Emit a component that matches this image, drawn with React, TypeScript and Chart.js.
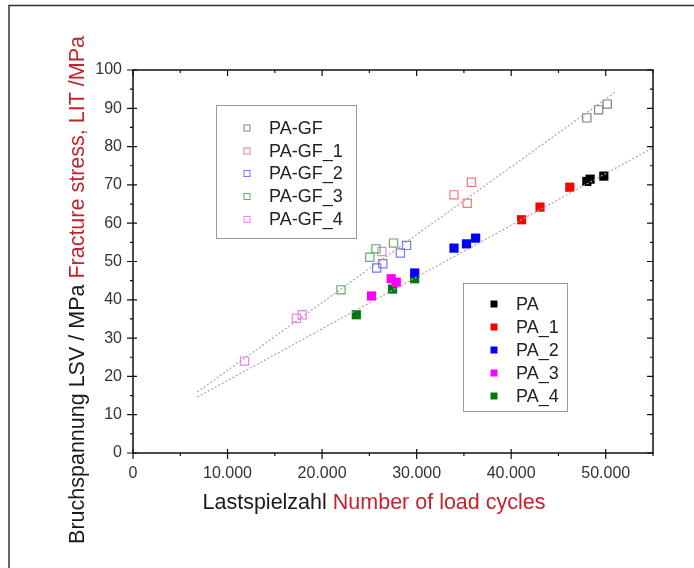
import React, { useEffect, useRef } from "react";
import { Chart, registerables } from "chart.js";

Chart.register(...registerables);

// ---- data ----
const gfX = [48000, 49250, 50150];
const gfY = [87.5, 89.6, 91.1];
const gf1X = [33950, 35350, 35800];
const gf1Y = [67.4, 65.2, 70.7];
const gf2X = [25770, 26420, 28280, 28930];
const gf2Y = [48.3, 49.4, 52.2, 54.2];
const gf3X = [22000, 25050, 25700, 27560];
const gf3Y = [42.6, 51.1, 53.3, 54.8];
const gf4X = [11800, 17280, 17890, 26320];
const gf4Y = [24.0, 35.2, 36.1, 52.6];

const paX = [48000, 48350, 49800];
const paY = [70.9, 71.5, 72.3];
const pa1X = [41100, 43050, 46200];
const pa1Y = [60.9, 64.2, 69.4];
const pa2X = [29800, 33950, 35270, 36240];
const pa2Y = [47.0, 53.5, 54.6, 56.1];
const pa3X = [25230, 27310, 27850];
const pa3Y = [41.0, 45.5, 44.6];
const pa4X = [23620, 27450, 29790];
const pa4Y = [36.1, 42.8, 45.5];

const gfTrendX = [6800, 51000];
const gfTrendY = [15.9, 94.2];
const paTrendX = [6800, 55000];
const paTrendY = [14.6, 79.7];

const gfNames = ["PA-GF", "PA-GF_1", "PA-GF_2", "PA-GF_3", "PA-GF_4"];
const gfColors = ["#808080", "#f07878", "#7878f0", "#60b060", "#f080f0"];
const paNames = ["PA", "PA_1", "PA_2", "PA_3", "PA_4"];
const paColors = ["#000000", "#ff0000", "#0000ff", "#ff00ff", "#007a10"];

const xTickValues = [0, 10000, 20000, 30000, 40000, 50000];
const yTickValues = [0, 10, 20, 30, 40, 50, 60, 70, 80, 90, 100];

const xTitleBlack = "Lastspielzahl ";
const xTitleRed = "Number of load cycles";
const yTitleBlack = "Bruchspannung LSV / MPa ";
const yTitleRed = "Fracture stress, LIT /MPa";

const FONT = '"Liberation Sans", Arial, Helvetica, sans-serif';
const RED_TEXT = "#c4232b";

const zip = (xs: number[], ys: number[]) => xs.map((x, i) => ({ x, y: ys[i] }));
const fmt = (v: number) => String(v).replace(/\B(?=(\d{3})+(?!\d))/g, ".");

const overlayPlugin = {
  id: "overlay",
  afterDatasetsDraw(chart: any) {
    const ctx = chart.ctx;
    const drawLegend = (
      box: [number, number, number, number],
      mx: number,
      tx: number,
      rows: number[],
      names: string[],
      colors: string[],
      filled: boolean
    ) => {
      ctx.save();
      ctx.fillStyle = "#ffffff";
      ctx.fillRect(box[0], box[1], box[2], box[3]);
      ctx.strokeStyle = "#9a9a9a";
      ctx.lineWidth = 1;
      ctx.strokeRect(box[0] + 0.5, box[1] + 0.5, box[2], box[3]);
      ctx.font = `18px ${FONT}`;
      ctx.textBaseline = "middle";
      ctx.textAlign = "left";
      names.forEach((n, i) => {
        const y = rows[i];
        if (filled) {
          ctx.fillStyle = colors[i];
          ctx.fillRect(mx - 3.5, y - 3.5, 7, 7);
        } else {
          ctx.strokeStyle = colors[i];
          ctx.strokeRect(mx - 3, y - 3, 6, 6);
        }
        ctx.fillStyle = "#222222";
        ctx.fillText(n, tx, y + 1);
      });
      ctx.restore();
    };
    drawLegend([216, 105, 140, 133], 247, 269, [128, 151, 173.5, 196.5, 219.5], gfNames, gfColors, false);
    drawLegend([463, 283, 104, 128], 494, 516, [304, 327, 350, 373, 396], paNames, paColors, true);
  },
  afterDraw(chart: any) {
    const ctx = chart.ctx;
    const { left, right, top, bottom } = chart.chartArea;
    const xs = chart.scales.x;
    const ys = chart.scales.y;
    ctx.save();
    // outer frame
    ctx.strokeStyle = "#333333";
    ctx.lineWidth = 1.5;
    ctx.beginPath();
    ctx.moveTo(9, 568);
    ctx.lineTo(9, 5.5);
    ctx.lineTo(694, 5.5);
    ctx.stroke();
    // axes frame
    ctx.strokeStyle = "#111111";
    ctx.lineWidth = 1.5;
    ctx.strokeRect(left, top, right - left, bottom - top);
    ctx.lineWidth = 1.2;
    ctx.beginPath();
    for (let v = 0; v <= 55000; v += 5000) {
      const px = xs.getPixelForValue(v);
      const major = v % 10000 === 0;
      if (major) {
        ctx.moveTo(px, bottom - 4);
        ctx.lineTo(px, bottom + 6);
        ctx.moveTo(px, top);
        ctx.lineTo(px, top + 6);
      } else {
        ctx.moveTo(px, bottom);
        ctx.lineTo(px, bottom + 3);
        ctx.moveTo(px, top);
        ctx.lineTo(px, top + 3);
      }
    }
    for (let v = 0; v <= 100; v += 5) {
      const py = ys.getPixelForValue(v);
      const major = v % 10 === 0;
      if (major) {
        ctx.moveTo(left - 6, py);
        ctx.lineTo(left + 4, py);
        ctx.moveTo(right, py);
        ctx.lineTo(right - 6, py);
      } else {
        ctx.moveTo(left - 3, py);
        ctx.lineTo(left, py);
        ctx.moveTo(right, py);
        ctx.lineTo(right - 3, py);
      }
    }
    ctx.stroke();

    // titles
    ctx.font = `21.5px ${FONT}`;
    ctx.textBaseline = "alphabetic";
    ctx.textAlign = "left";
    const wb = ctx.measureText(xTitleBlack).width;
    const wr = ctx.measureText(xTitleRed).width;
    let sx = 374 - (wb + wr) / 2;
    ctx.fillStyle = "#1a1a1a";
    ctx.fillText(xTitleBlack, sx, 509);
    ctx.fillStyle = RED_TEXT;
    ctx.fillText(xTitleRed, sx + wb, 509);

    ctx.translate(84, 290);
    ctx.rotate(-Math.PI / 2);
    const yb = ctx.measureText(yTitleBlack).width;
    const yr = ctx.measureText(yTitleRed).width;
    sx = -(yb + yr) / 2;
    ctx.fillStyle = "#1a1a1a";
    ctx.fillText(yTitleBlack, sx, 0);
    ctx.fillStyle = RED_TEXT;
    ctx.fillText(yTitleRed, sx + yb, 0);
    ctx.restore();
  },
};

export default function App() {
  const ref = useRef<HTMLCanvasElement | null>(null);
  useEffect(() => {
    if (!ref.current) return;
    const gfSets = [
      zip(gfX, gfY),
      zip(gf1X, gf1Y),
      zip(gf2X, gf2Y),
      zip(gf3X, gf3Y),
      zip(gf4X, gf4Y),
    ].map((d, i) => ({
      type: "scatter" as const,
      label: gfNames[i],
      data: d,
      pointStyle: "rect",
      pointRadius: 5.8,
      borderWidth: 1.2,
      borderColor: gfColors[i],
      backgroundColor: "rgba(255,255,255,0)",
    }));
    const paSets = [
      zip(paX, paY),
      zip(pa1X, pa1Y),
      zip(pa2X, pa2Y),
      zip(pa3X, pa3Y),
      zip(pa4X, pa4Y),
    ].map((d, i) => ({
      type: "scatter" as const,
      label: paNames[i],
      data: d,
      pointStyle: "rect",
      pointRadius: 6.5,
      borderWidth: 0,
      borderColor: paColors[i],
      backgroundColor: paColors[i],
    }));
    const trend = (xs: number[], ys: number[]) => ({
      type: "line" as const,
      label: "trend",
      data: zip(xs, ys),
      borderColor: "#a8a8a8",
      borderWidth: 1.2,
      borderDash: [2, 2],
      pointRadius: 0,
      fill: false,
    });
    const chart = new Chart(ref.current, {
      type: "scatter",
      data: {
        datasets: [trend(gfTrendX, gfTrendY), trend(paTrendX, paTrendY), ...gfSets, ...paSets] as any,
      },
      options: {
        animation: false,
        responsive: false,
        devicePixelRatio: 1,
        layout: { padding: { top: 70, right: 41, left: 0, bottom: 0 } },
        plugins: { legend: { display: false }, tooltip: { enabled: false } },
        scales: {
          x: {
            type: "linear",
            min: 0,
            max: 55000,
            afterFit: (s: any) => {
              s.height = 115;
            },
            afterBuildTicks: (s: any) => {
              s.ticks = xTickValues.map((v) => ({ value: v }));
            },
            grid: { display: false, drawTicks: false },
            border: { display: false },
            ticks: {
              autoSkip: false,
              maxRotation: 0,
              padding: 11,
              color: "#333333",
              font: { family: FONT, size: 16 },
              callback: (v: any) => fmt(Number(v)),
            },
          },
          y: {
            type: "linear",
            min: 0,
            max: 100,
            afterFit: (s: any) => {
              s.width = 133;
            },
            afterBuildTicks: (s: any) => {
              s.ticks = yTickValues.map((v) => ({ value: v }));
            },
            grid: { display: false, drawTicks: false },
            border: { display: false },
            ticks: {
              autoSkip: false,
              padding: 11,
              color: "#333333",
              font: { family: FONT, size: 16 },
            },
          },
        },
      },
      plugins: [overlayPlugin],
    });
    return () => chart.destroy();
  }, []);
  return (
    <div style={{ position: "fixed", left: 0, top: 0, width: 694, height: 568, background: "#fff" }}>
      <canvas ref={ref} width={694} height={568} style={{ width: 694, height: 568, display: "block" }} />
    </div>
  );
}
